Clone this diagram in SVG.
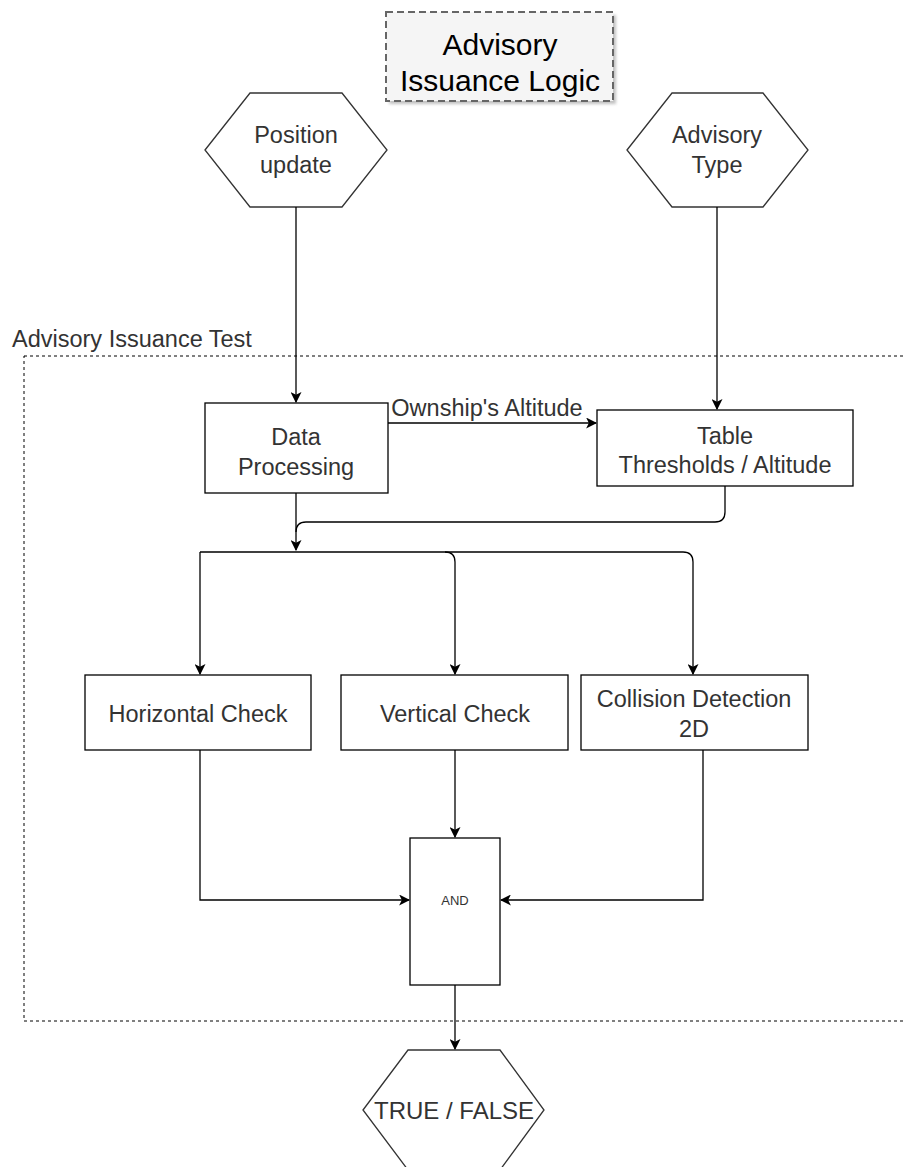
<svg xmlns="http://www.w3.org/2000/svg" width="903" height="1167" viewBox="0 0 903 1167">
<style>
text{font-family:"Liberation Sans",Arial,sans-serif;fill:#333;text-anchor:middle}
.box{fill:#fff;stroke:#000;stroke-width:1.3}
.hex{fill:#fff;stroke:#333;stroke-width:1.3}
.c{fill:none;stroke:#000;stroke-width:1.3}
.lbl{font-size:23.5px}
</style>
<defs>
<marker id="ah" viewBox="0 0 10 10" refX="9" refY="5" markerWidth="11" markerHeight="11" markerUnits="userSpaceOnUse" orient="auto">
<path d="M0,0 L10,5 L0,10 L2.5,5 Z" fill="#000"/>
</marker>
<filter id="sh" x="-10%" y="-10%" width="130%" height="130%"><feGaussianBlur stdDeviation="1.5"/></filter>
</defs>
<g id="container">
<rect x="24" y="356" width="890" height="665" fill="none" stroke="#000" stroke-width="1" stroke-dasharray="3 3"/>
<text x="12" y="347" class="lbl" style="text-anchor:start">Advisory Issuance Test</text>
</g>
<g id="title">
<rect x="389" y="15" width="227" height="89" fill="#999" filter="url(#sh)" opacity="0.6"/>
<rect x="386" y="12" width="227" height="89" fill="#f5f5f5" stroke="#666" stroke-width="2" stroke-dasharray="7 4"/>
<text x="500" y="55" style="font-size:30px;fill:#000">Advisory</text>
<text x="500" y="91" style="font-size:30px;fill:#000">Issuance Logic</text>
</g>
<g id="position-update">
<polygon class="hex" points="205,150 250,93 342,93 387,150 342,207 250,207"/>
<text x="296" y="143" class="lbl">Position</text>
<text x="296" y="173" class="lbl">update</text>
</g>
<g id="advisory-type">
<polygon class="hex" points="627,150 672,93 763,93 808,150 763,207 672,207"/>
<text x="717" y="143" class="lbl">Advisory</text>
<text x="717" y="173" class="lbl">Type</text>
</g>
<g id="data-processing">
<rect class="box" x="205" y="403" width="183" height="90"/>
<text x="296" y="445" class="lbl">Data</text>
<text x="296" y="475" class="lbl">Processing</text>
</g>
<g id="table-thresholds">
<rect class="box" x="597" y="410" width="256" height="76"/>
<text x="725" y="444" class="lbl">Table</text>
<text x="725" y="473" class="lbl">Thresholds / Altitude</text>
</g>
<g id="horizontal-check">
<rect class="box" x="85" y="675" width="226" height="75"/>
<text x="198" y="722" class="lbl">Horizontal Check</text>
</g>
<g id="vertical-check">
<rect class="box" x="341" y="675" width="227" height="75"/>
<text x="455" y="722" class="lbl">Vertical Check</text>
</g>
<g id="collision-detection">
<rect class="box" x="581" y="675" width="227" height="75"/>
<text x="694" y="707" class="lbl">Collision Detection</text>
<text x="694" y="737" class="lbl">2D</text>
</g>
<g id="and">
<rect class="box" x="410" y="838" width="90" height="147"/>
<text x="455" y="905" style="font-size:13px">AND</text>
</g>
<g id="true-false">
<polygon class="hex" points="363,1110 408,1050 500,1050 544,1110 500,1170 408,1170"/>
<text x="454" y="1119" style="font-size:24px">TRUE / FALSE</text>
</g>
<g id="connectors">
<path class="c" d="M296,207 L296,402" marker-end="url(#ah)"/>
<path class="c" d="M717,207 L717,409" marker-end="url(#ah)"/>
<path class="c" d="M388,423 L596,423" marker-end="url(#ah)"/>
<text x="487" y="416" class="lbl">Ownship's Altitude</text>
<path class="c" d="M296,493 L296,550" marker-end="url(#ah)"/>
<path class="c" d="M725,486 L725,512 Q725,522 715,522 L306,522 Q296,522 296,532"/>
<path class="c" d="M200,552 L445,552 Q455,552 455,562 L455,674" marker-end="url(#ah)"/>
<path class="c" d="M200,552 L200,674" marker-end="url(#ah)"/>
<path class="c" d="M445,552 L683,552 Q693,552 693,562 L693,674" marker-end="url(#ah)"/>
<path class="c" d="M200,750 L200,900 L409,900" marker-end="url(#ah)"/>
<path class="c" d="M455,750 L455,837" marker-end="url(#ah)"/>
<path class="c" d="M703,750 L703,900 L501,900" marker-end="url(#ah)"/>
<path class="c" d="M455,985 L455,1049" marker-end="url(#ah)"/>
</g>
</svg>
